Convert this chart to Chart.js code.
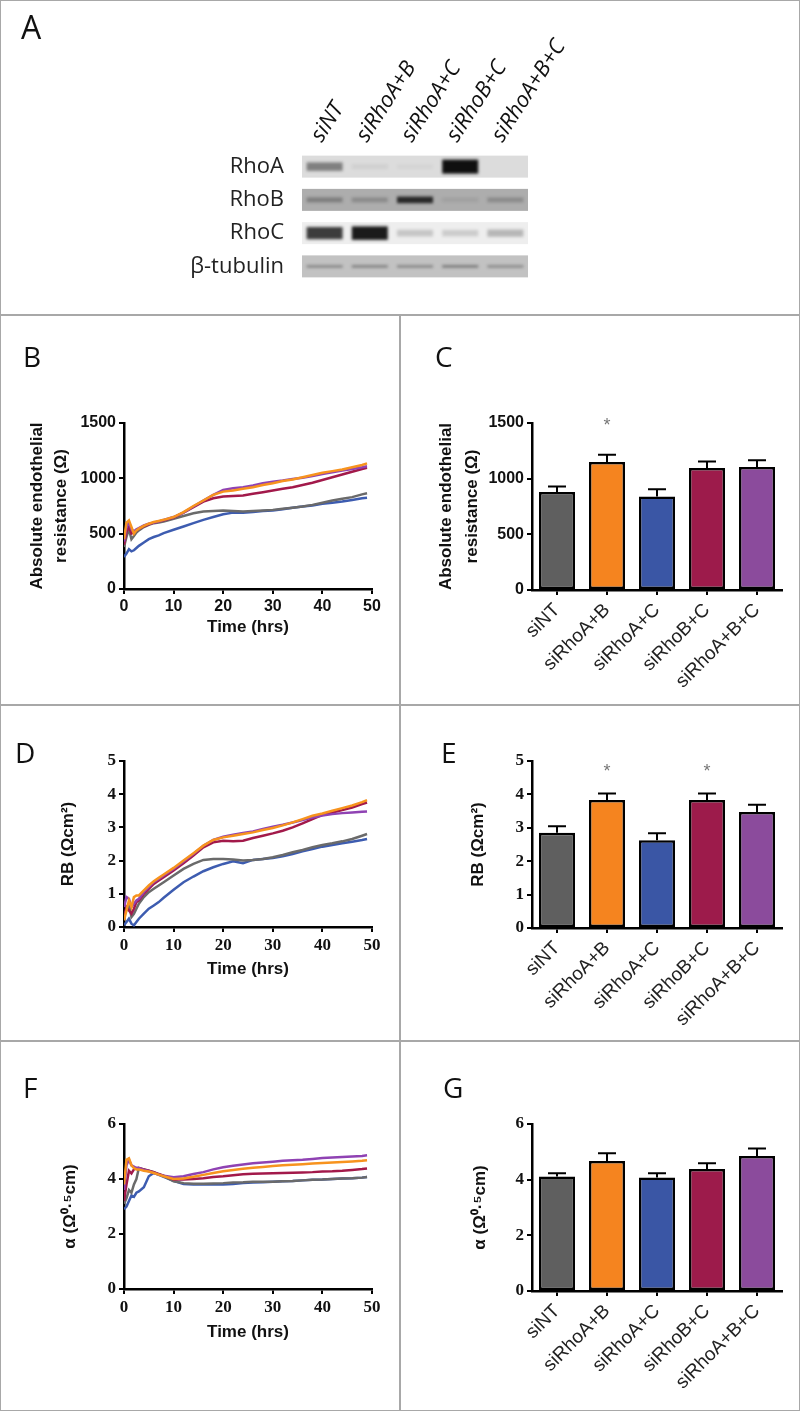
<!DOCTYPE html>
<html>
<head>
<meta charset="utf-8">
<script src="https://cdn.jsdelivr.net/npm/chart.js@4.4.1/dist/chart.umd.min.js"></script>
<style>
  body { margin: 0; background: #fff; }
  #fig { position: relative; width: 800px; height: 1411px; overflow: hidden; background: #fff; }
  canvas { position: absolute; }
  .rule { position: absolute; background: #a8a8a8; z-index: 2; }
  .tag { position: absolute; font-family: 'Open Sans'; font-size: 28px; line-height: 1; color: #111; z-index: 2; }
</style>
</head>
<body>
<div id="fig">
  <canvas id="blot" width="800" height="315" style="left:0;top:0"></canvas>
  <canvas id="chartB" width="400" height="389" style="left:0;top:316px"></canvas>
  <canvas id="chartC" width="400" height="389" style="left:400px;top:316px"></canvas>
  <canvas id="chartD" width="400" height="335" style="left:0;top:706px"></canvas>
  <canvas id="chartE" width="400" height="335" style="left:400px;top:706px"></canvas>
  <canvas id="chartF" width="400" height="369" style="left:0;top:1042px"></canvas>
  <canvas id="chartG" width="400" height="369" style="left:400px;top:1042px"></canvas>

  <div class="rule" style="left:0;top:0;width:800px;height:1px"></div>
  <div class="rule" style="left:0;top:1410px;width:800px;height:1px"></div>
  <div class="rule" style="left:0;top:0;width:1px;height:1411px"></div>
  <div class="rule" style="left:799px;top:0;width:1px;height:1411px"></div>
  <div class="rule" style="left:0;top:314px;width:800px;height:2px"></div>
  <div class="rule" style="left:399px;top:314px;width:2px;height:1097px"></div>
  <div class="rule" style="left:0;top:704px;width:800px;height:2px"></div>
  <div class="rule" style="left:0;top:1040px;width:800px;height:2px"></div>

  <div class="tag" style="left:21px;top:11px;font-size:32px">A</div>
  <div class="tag" style="left:23px;top:342px">B</div>
  <div class="tag" style="left:435px;top:342px">C</div>
  <div class="tag" style="left:15px;top:738px">D</div>
  <div class="tag" style="left:441px;top:738px">E</div>
  <div class="tag" style="left:23px;top:1073px">F</div>
  <div class="tag" style="left:443px;top:1073px">G</div>
</div>

<script>
// groups, in the order used everywhere
const groups = ['siNT', 'siRhoA+B', 'siRhoA+C', 'siRhoB+C', 'siRhoA+B+C']

// western blot (panel A), relative band darkness per lane
const blotRows = ['RhoA', 'RhoB', 'RhoC', 'β-tubulin']
const bandRhoA = [0.45, 0.06, 0.03, 1.0, 0.0]
const bandRhoB = [0.30, 0.22, 0.85, 0.08, 0.22]
const bandRhoC = [0.80, 0.95, 0.18, 0.15, 0.25]
const bandTubulin = [0.35, 0.38, 0.35, 0.42, 0.33]

// time courses (B, D, F)
const hours = [0, 0.5, 1, 1.5, 2, 2.5, 3, 4, 5, 6, 7, 8, 10, 12, 14, 16, 18, 20, 22, 24, 26, 28, 30, 32, 34, 36, 38, 40, 42, 44, 46, 48, 49]

const resNT   = [380, 470, 540, 450, 480, 510, 530, 560, 580, 595, 600, 610, 635, 660, 685, 700, 705, 710, 705, 700, 705, 710, 715, 725, 735, 745, 760, 780, 800, 815, 830, 855, 865]
const resAB   = [450, 600, 620, 560, 500, 530, 545, 570, 590, 605, 615, 625, 650, 695, 750, 800, 850, 880, 890, 905, 920, 940, 955, 975, 990, 1010, 1030, 1050, 1065, 1080, 1100, 1120, 1135]
const resAC   = [290, 320, 360, 340, 350, 370, 390, 420, 450, 470, 485, 505, 535, 565, 595, 625, 650, 675, 690, 690, 695, 705, 710, 720, 735, 745, 755, 770, 780, 790, 805, 820, 825]
const resBC   = [400, 520, 560, 500, 510, 530, 545, 565, 585, 600, 610, 620, 645, 690, 740, 790, 820, 835, 840, 845, 860, 875, 890, 905, 920, 940, 960, 985, 1010, 1035, 1060, 1085, 1095]
const resABC  = [430, 560, 600, 540, 520, 540, 550, 575, 590, 600, 610, 625, 650, 690, 745, 800, 850, 895, 910, 920, 935, 955, 970, 980, 995, 1005, 1020, 1040, 1055, 1070, 1085, 1100, 1110]

const rbNT  = [0.4, 0.5, 0.7, 0.3, 0.4, 0.55, 0.7, 0.9, 1.05, 1.15, 1.25, 1.35, 1.55, 1.75, 1.9, 2.02, 2.05, 2.05, 2.03, 2.0, 2.02, 2.05, 2.1, 2.17, 2.25, 2.32, 2.4, 2.47, 2.52, 2.58, 2.65, 2.75, 2.8]
const rbAB  = [0.2, 0.5, 0.8, 0.6, 0.9, 0.95, 0.95, 1.1, 1.25, 1.38, 1.48, 1.58, 1.78, 2.0, 2.22, 2.45, 2.62, 2.7, 2.75, 2.8, 2.85, 2.92, 2.98, 3.06, 3.15, 3.25, 3.35, 3.42, 3.5, 3.58, 3.66, 3.76, 3.82]
const rbAC  = [0.05, 0.15, 0.25, 0.1, 0.05, 0.15, 0.25, 0.4, 0.55, 0.65, 0.75, 0.88, 1.12, 1.35, 1.52, 1.68, 1.8, 1.9, 1.98, 1.92, 2.02, 2.05, 2.08, 2.13, 2.2, 2.28, 2.35, 2.42, 2.47, 2.52, 2.57, 2.62, 2.65]
const rbBC  = [0.3, 0.6, 0.5, 0.4, 0.55, 0.75, 0.8, 1.0, 1.15, 1.3, 1.4, 1.5, 1.7, 1.92, 2.15, 2.4, 2.55, 2.6, 2.58, 2.6, 2.68, 2.75, 2.82, 2.9, 3.0, 3.12, 3.25, 3.38, 3.45, 3.52, 3.6, 3.7, 3.75]
const rbABC = [0.6, 0.9, 0.85, 0.6, 0.7, 0.8, 0.85, 1.05, 1.2, 1.35, 1.45, 1.55, 1.75, 1.97, 2.2, 2.45, 2.62, 2.72, 2.78, 2.83, 2.88, 2.95, 3.02, 3.08, 3.15, 3.22, 3.3, 3.36, 3.4, 3.43, 3.45, 3.47, 3.48]

const alNT  = [3.1, 3.3, 3.6, 3.5, 3.8, 4.0, 4.4, 4.35, 4.3, 4.25, 4.18, 4.1, 3.92, 3.85, 3.83, 3.83, 3.84, 3.85, 3.87, 3.88, 3.9, 3.9, 3.9, 3.92, 3.93, 3.95, 3.97, 3.98, 4.0, 4.02, 4.03, 4.05, 4.07]
const alAB  = [3.8, 4.7, 4.75, 4.5, 4.4, 4.35, 4.35, 4.3, 4.27, 4.22, 4.16, 4.1, 4.0, 4.02, 4.08, 4.15, 4.22, 4.28, 4.33, 4.37, 4.41, 4.44, 4.47, 4.5, 4.52, 4.54, 4.56, 4.58, 4.6, 4.62, 4.64, 4.66, 4.68]
const alAC  = [2.9, 3.0, 3.2, 3.4, 3.35, 3.5, 3.55, 3.7, 4.1, 4.22, 4.15, 4.08, 3.93, 3.82, 3.8, 3.8, 3.8, 3.8, 3.82, 3.85, 3.87, 3.88, 3.9, 3.92, 3.93, 3.95, 3.97, 3.98, 4.0, 4.02, 4.03, 4.05, 4.07]
const alBC  = [3.2, 3.8, 4.3, 4.2, 4.35, 4.4, 4.4, 4.35, 4.3, 4.25, 4.18, 4.12, 3.98, 3.98, 4.0, 4.03, 4.07, 4.1, 4.14, 4.17, 4.19, 4.2, 4.21, 4.22, 4.23, 4.24, 4.25, 4.27, 4.28, 4.3, 4.33, 4.36, 4.38]
const alABC = [3.6, 4.5, 4.7, 4.5, 4.45, 4.4, 4.4, 4.33, 4.28, 4.22, 4.16, 4.12, 4.06, 4.1, 4.18, 4.25, 4.35, 4.43, 4.48, 4.53, 4.57, 4.6, 4.63, 4.66, 4.68, 4.7, 4.73, 4.76, 4.78, 4.8, 4.82, 4.84, 4.86]

// bar summaries (C, E, G): mean and upper error
const resMean = [880, 1150, 840, 1095, 1105]
const resErr  = [50, 65, 65, 60, 60]
const resSig  = ['', '*', '', '', '']
const rbMean  = [2.85, 3.83, 2.63, 3.83, 3.47]
const rbErr   = [0.2, 0.2, 0.21, 0.2, 0.22]
const rbSig   = ['', '*', '', '*', '']
const alMean  = [4.11, 4.67, 4.08, 4.38, 4.85]
const alErr   = [0.12, 0.28, 0.15, 0.21, 0.27]
const alSig   = ['', '', '', '', '']

const resTicks = [0, 500, 1000, 1500]
const rbTicks = [0, 1, 2, 3, 4, 5]
const alTicks = [0, 2, 4, 6]
const timeTicks = [0, 10, 20, 30, 40, 50]

const barColors = ['#5f5f5f', '#f5841f', '#3a56a5', '#9d1b4b', '#8b4b9c']
const lineColors = ['#6a6a6a', '#f7931e', '#3d5cb0', '#a2194a', '#8f42b3']
const drawOrder = [3, 0, 4, 2, 1]

Chart.defaults.font.family = "'Liberation Sans', Arial, sans-serif"
Chart.defaults.color = '#111'

const sansBold = { family: "'Liberation Sans', Arial, sans-serif", size: 16, weight: 'bold' }
const serifBold = { family: "'Liberation Serif', 'Times New Roman', serif", size: 17, weight: 'bold' }
const titleFont = { family: "'Liberation Sans', Arial, sans-serif", size: 17, weight: 'bold' }
const axisGrid = { drawOnChartArea: false, color: '#000', lineWidth: 2, tickLength: 5 }
const axisBorder = { color: '#000', width: 2.5 }
const plain = v => String(v)

// blot: row backgrounds and band shapes
const rowStyle = [
  { bg: '#dcdcdc', base: 4, grow: 10 },
  { bg: '#adadad', base: 4, grow: 3 },
  { bg: '#eeeeee', base: 5, grow: 9 },
  { bg: '#c2c2c2', base: 2.5, grow: 0 },
]

const blotPlugin = {
  id: 'blotBands',
  beforeDatasetsDraw(chart) {
    const { ctx, chartArea } = chart
    chart.data.datasets.forEach((ds, r) => {
      const meta = chart.getDatasetMeta(r)
      const st = rowStyle[r]
      const cy = meta.data[0].y
      ctx.save()
      ctx.fillStyle = st.bg
      ctx.fillRect(chartArea.left, cy - 11, chartArea.right - chartArea.left, 22)
      ctx.beginPath()
      ctx.rect(chartArea.left, cy - 11, chartArea.right - chartArea.left, 22)
      ctx.clip()
      ctx.filter = 'blur(1.6px)'
      meta.data.forEach((pt, i) => {
        const v = ds.bands[i]
        const h = st.base + st.grow * v
        ctx.fillStyle = 'rgba(15,15,15,' + Math.min(1, v) + ')'
        ctx.fillRect(pt.x - 18, pt.y - h / 2, 36, h)
      })
      ctx.restore()
    })
  }
}

new Chart(document.getElementById('blot'), {
  type: 'scatter',
  data: {
    datasets: [bandRhoA, bandRhoB, bandRhoC, bandTubulin].map((b, r) => ({
      data: groups.map(g => ({ x: g, y: blotRows[r] })),
      bands: b,
      pointRadius: 0,
    })),
  },
  options: {
    responsive: false,
    animation: false,
    events: [],
    layout: { padding: { top: 0, left: 0, right: 272, bottom: 32 } },
    plugins: { legend: { display: false }, tooltip: { enabled: false } },
    scales: {
      x: {
        type: 'category', labels: groups, position: 'top', offset: true,
        afterFit: s => { s.height = 150 },
        grid: { display: false }, border: { display: false },
        ticks: {
          autoSkip: false, minRotation: 57, maxRotation: 57, padding: -5, labelOffset: 14,
          color: '#111', font: { family: "'Open Sans'", size: 22, style: 'italic' },
        },
      },
      y: {
        type: 'category', labels: blotRows, offset: true,
        afterFit: s => { s.width = 302 },
        grid: { display: false }, border: { display: false },
        ticks: { padding: 10, color: '#222', font: { family: "'Open Sans'", size: 22 } },
      },
    },
  },
  plugins: [blotPlugin],
})

function lineChart(id, series, ticks, yTitle, g) {
  return new Chart(document.getElementById(id), {
    type: 'line',
    data: {
      datasets: series.map((vals, k) => ({
        label: groups[k],
        data: hours.map((t, i) => ({ x: t, y: vals[i] })),
        borderColor: lineColors[k],
        borderWidth: 2.5,
        pointRadius: 0,
        tension: 0,
        order: drawOrder[k],
      })),
    },
    options: {
      responsive: false,
      animation: false,
      events: [],
      layout: { padding: { top: g.top, right: g.right, left: 0, bottom: 0 } },
      plugins: { legend: { display: false }, tooltip: { enabled: false } },
      scales: {
        x: {
          type: 'linear', min: timeTicks[0], max: timeTicks[timeTicks.length - 1],
          afterFit: s => { s.height = g.xh },
          afterBuildTicks: s => { s.ticks = timeTicks.map(v => ({ value: v })) },
          ticks: { font: g.font, padding: 3, callback: plain },
          grid: axisGrid, border: axisBorder,
          title: { display: true, text: 'Time (hrs)', font: titleFont, padding: { bottom: g.xtp } },
        },
        y: {
          min: ticks[0], max: ticks[ticks.length - 1],
          afterFit: s => { s.width = g.yw },
          afterBuildTicks: s => { s.ticks = ticks.map(v => ({ value: v })) },
          ticks: { font: g.font, padding: 3, callback: plain },
          grid: axisGrid, border: axisBorder,
          title: { display: true, text: yTitle, font: { ...titleFont, lineHeight: g.lh }, padding: { top: g.ytp } },
        },
      },
    },
  })
}

const errorBars = {
  id: 'errorBars',
  afterDatasetsDraw(chart) {
    const { ctx } = chart
    const ys = chart.scales.y
    const ds = chart.data.datasets[0]
    const meta = chart.getDatasetMeta(0)
    ctx.save()
    ctx.strokeStyle = '#000'
    ctx.lineWidth = 2
    meta.data.forEach((bar, i) => {
      const top = ys.getPixelForValue(ds.data[i] + ds.errors[i])
      ctx.beginPath()
      ctx.moveTo(bar.x, bar.y)
      ctx.lineTo(bar.x, top)
      ctx.moveTo(bar.x - 9, top)
      ctx.lineTo(bar.x + 9, top)
      ctx.stroke()
      if (ds.sig[i]) {
        ctx.fillStyle = '#777'
        ctx.font = '18px "Liberation Sans"'
        ctx.textAlign = 'center'
        ctx.textBaseline = 'middle'
        ctx.fillText(ds.sig[i], bar.x, ys.getPixelForValue(ds.sigLevel) + 3)
      }
    })
    ctx.restore()
  }
}

function barChart(id, mean, err, sig, sigLevel, ticks, yTitle, g) {
  return new Chart(document.getElementById(id), {
    type: 'bar',
    data: {
      labels: groups,
      datasets: [{
        data: mean,
        errors: err,
        sig: sig,
        sigLevel: sigLevel,
        backgroundColor: barColors,
        borderColor: '#000',
        borderWidth: 2.5,
        borderSkipped: false,
        barPercentage: 0.72,
        categoryPercentage: 1,
      }],
    },
    options: {
      responsive: false,
      animation: false,
      events: [],
      layout: { padding: { top: g.top, right: g.right, left: 0, bottom: 0 } },
      plugins: { legend: { display: false }, tooltip: { enabled: false } },
      scales: {
        x: {
          afterFit: s => { s.height = g.xh },
          grid: { ...axisGrid, offset: false },
          border: axisBorder,
          ticks: {
            autoSkip: false, minRotation: 45, maxRotation: 45, padding: 4,
            color: '#222', font: { family: "'Liberation Sans', Arial, sans-serif", size: 19 },
          },
        },
        y: {
          min: ticks[0], max: ticks[ticks.length - 1],
          afterFit: s => { s.width = g.yw },
          afterBuildTicks: s => { s.ticks = ticks.map(v => ({ value: v })) },
          ticks: { font: g.font, padding: 3, callback: plain },
          grid: axisGrid, border: axisBorder,
          title: { display: true, text: yTitle, font: { ...titleFont, lineHeight: g.lh }, padding: { top: g.ytp } },
        },
      },
    },
    plugins: [errorBars],
  })
}

const resTitle = ['Absolute endothelial', 'resistance (Ω)']
const rbTitle = 'RB (Ωcm²)'
const alTitle = 'α (Ω⁰·⁵cm)'

lineChart('chartB', [resNT, resAB, resAC, resBC, resABC], resTicks, resTitle,
  { top: 107, right: 28, yw: 124, xh: 116, xtp: 67, ytp: 24.5, lh: 1.45, font: sansBold })
barChart('chartC', resMean, resErr, resSig, 1500, resTicks, resTitle,
  { top: 107, right: 18, yw: 132, xh: 115, ytp: 34, lh: 1.5, font: sansBold })

lineChart('chartD', [rbNT, rbAB, rbAC, rbBC, rbABC], rbTicks, rbTitle,
  { top: 55, right: 28, yw: 124, xh: 114, xtp: 61, ytp: 58, lh: 1.2, font: serifBold })
barChart('chartE', rbMean, rbErr, rbSig, 4.76, rbTicks, rbTitle,
  { top: 55, right: 18, yw: 132, xh: 113, ytp: 68, lh: 1.2, font: serifBold })

lineChart('chartF', [alNT, alAB, alAC, alBC, alABC], alTicks, alTitle,
  { top: 82, right: 28, yw: 124, xh: 122, xtp: 68, ytp: 60, lh: 1.2, font: serifBold })
barChart('chartG', alMean, alErr, alSig, 5.5, alTicks, alTitle,
  { top: 82, right: 18, yw: 132, xh: 120, ytp: 70, lh: 1.2, font: serifBold })
</script>
</body>
</html>
